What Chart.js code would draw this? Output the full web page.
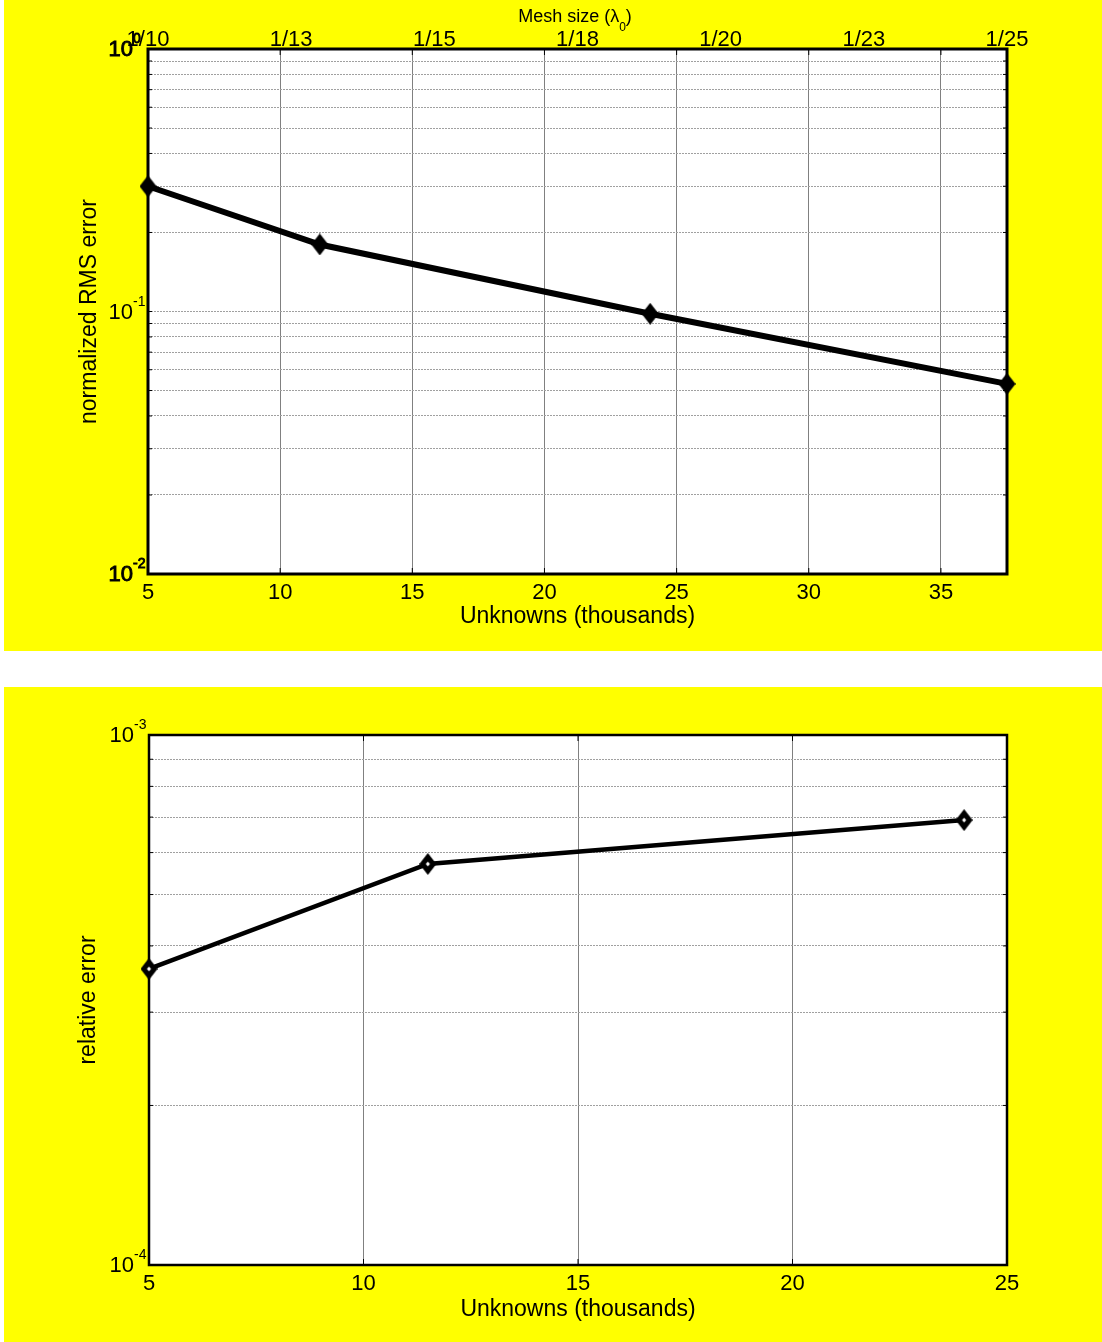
<!DOCTYPE html>
<html>
<head>
<meta charset="utf-8">
<script src="https://cdn.jsdelivr.net/npm/chart.js@4/dist/chart.umd.min.js"></script>
<style>
  html, body { margin: 0; padding: 0; background: #fff; }
  .panel { position: absolute; left: 4px; width: 1098px; background: #ffff00; }
  #p1 { top: 0; height: 651px; }
  #p2 { top: 687px; height: 655px; }
  canvas { display: block; }
</style>
</head>
<body>
<div class="panel" id="p1"><canvas id="c1" width="1098" height="651"></canvas></div>
<div class="panel" id="p2"><canvas id="c2" width="1098" height="655"></canvas></div>
<script>
// ---- data ----
const unknowns = [5, 11.5, 24, 37.5];          // thousands of unknowns
const rmsError = [0.30, 0.18, 0.098, 0.053];   // normalized RMS error
const unknownsRel = [5, 11.5, 24];
const relError = [3.62e-4, 5.71e-4, 6.91e-4];  // relative error

// ---- tick labels ----
const meshLabels = ['1/10', '1/13', '1/15', '1/18', '1/20', '1/23', '1/25'];
const xTicksRms = [5, 10, 15, 20, 25, 30, 35];
const xTicksRel = [5, 10, 15, 20, 25];
const rmsGridValues = [0.01, 0.02, 0.03, 0.04, 0.05, 0.06, 0.07, 0.08, 0.09,
                       0.1, 0.2, 0.3, 0.4, 0.5, 0.6, 0.7, 0.8, 0.9, 1];
const relGridValues = [1e-4, 2e-4, 3e-4, 4e-4, 5e-4, 6e-4, 7e-4, 8e-4, 9e-4, 1e-3];
const rmsDecades = [1, 0.1, 0.01];
const rmsDecadeExps = ['0', '-1', '-2'];
const relDecades = [1e-3, 1e-4];
const relDecadeExps = ['-3', '-4'];

const FONT = "'Liberation Sans', Arial, sans-serif";
Chart.defaults.font.family = FONT;
Chart.defaults.color = '#000';

// diamond marker drawn once and reused as a point style
function diamond(w, h, hole) {
  const c = document.createElement('canvas');
  c.width = w; c.height = h;
  const g = c.getContext('2d');
  g.fillStyle = '#000';
  g.beginPath();
  g.moveTo(w / 2, 0); g.lineTo(w, h / 2); g.lineTo(w / 2, h); g.lineTo(0, h / 2);
  g.closePath(); g.fill();
  if (hole) {
    g.fillStyle = '#fff';
    g.beginPath();
    g.moveTo(w / 2, h / 2 - hole); g.lineTo(w / 2 + hole * 0.8, h / 2);
    g.lineTo(w / 2, h / 2 + hole); g.lineTo(w / 2 - hole * 0.8, h / 2);
    g.closePath(); g.fill();
  }
  return c;
}

// white plot box, inner tick marks, frame, power-of-ten labels, top heading
const framePlugin = {
  id: 'frame',
  beforeDraw(chart) {
    const { ctx, chartArea: a } = chart;
    ctx.save();
    ctx.fillStyle = '#fff';
    ctx.fillRect(a.left, a.top, a.right - a.left, a.bottom - a.top);
    ctx.restore();
  },
  beforeDatasetsDraw(chart, args, o) {
    const { ctx, chartArea: a, scales } = chart;
    const seg = (x1, y1, x2, y2) => { ctx.beginPath(); ctx.moveTo(x1, y1); ctx.lineTo(x2, y2); ctx.stroke(); };
    ctx.save();
    ctx.strokeStyle = '#000';
    ctx.lineWidth = 1;
    scales.x.ticks.forEach(t => {
      const px = scales.x.getPixelForValue(t.value);
      seg(px, a.top, px, a.top + 6);
      seg(px, a.bottom, px, a.bottom - 6);
    });
    scales.y.ticks.forEach(t => {
      const py = scales.y.getPixelForValue(t.value);
      seg(a.left, py, a.left + 4, py);
      seg(a.right, py, a.right - 4, py);
    });
    ctx.lineWidth = o.border;
    ctx.strokeRect(a.left, a.top, a.right - a.left, a.bottom - a.top);
    ctx.restore();
  },
  afterDraw(chart, args, o) {
    const { ctx, chartArea: a, scales } = chart;
    ctx.save();
    ctx.fillStyle = '#000';
    ctx.strokeStyle = '#000';
    o.decades.forEach((v, i) => {
      const py = scales.y.getPixelForValue(v);
      const xr = a.left - 15;
      const heavy = o.heavyEnds && (i === 0 || i === o.decades.length - 1);
      ctx.lineWidth = 0.9;
      ctx.font = '22px ' + FONT;
      ctx.textAlign = 'right';
      ctx.textBaseline = 'middle';
      ctx.fillText('10', xr, py + 1);
      if (heavy) ctx.strokeText('10', xr, py + 1);
      ctx.font = '14px ' + FONT;
      ctx.textAlign = 'left';
      ctx.textBaseline = 'alphabetic';
      ctx.fillText(o.exps[i], xr, py - 6);
      if (heavy) ctx.strokeText(o.exps[i], xr, py - 6);
    });
    if (o.heading) {
      const main = 'Mesh size (\u03bb';
      ctx.font = '18px ' + FONT;
      const w1 = ctx.measureText(main).width;
      const w3 = ctx.measureText(')').width;
      ctx.font = '12px ' + FONT;
      const w2 = ctx.measureText('0').width;
      let x = o.headingX - (w1 + w2 + w3) / 2;
      ctx.textAlign = 'left';
      ctx.textBaseline = 'alphabetic';
      ctx.font = '18px ' + FONT;
      ctx.fillText(main, x, 22);
      x += w1;
      ctx.font = '12px ' + FONT;
      ctx.fillText('0', x, 31);
      x += w2;
      ctx.font = '18px ' + FONT;
      ctx.fillText(')', x, 22);
    }
    ctx.restore();
  }
};

function fixedTicks(values) {
  return scale => { scale.ticks = values.map(v => ({ value: v })); };
}

// ---- upper chart: normalized RMS error ----
new Chart(document.getElementById('c1'), {
  type: 'line',
  data: {
    datasets: [{
      data: unknowns.map((u, i) => ({ x: u, y: rmsError[i] })),
      borderColor: '#000',
      borderWidth: 6,
      tension: 0,
      pointStyle: diamond(17, 22, 0),
      pointRadius: 9,
      clip: false
    }]
  },
  options: {
    responsive: false,
    devicePixelRatio: 1,
    animation: false,
    layout: { padding: { left: 0, right: 95, top: 0, bottom: 0 } },
    plugins: {
      legend: { display: false },
      tooltip: { enabled: false },
      frame: { border: 3, decades: rmsDecades, exps: rmsDecadeExps, heavyEnds: true, heading: true, headingX: 571 }
    },
    scales: {
      x: {
        type: 'linear', position: 'bottom', min: 5, max: 37.5,
        afterBuildTicks: fixedTicks(xTicksRms),
        afterFit: s => { s.height = 77; },
        grid: { color: '#808080', lineWidth: 1, drawTicks: false },
        border: { display: false },
        ticks: { font: { size: 22 }, padding: 6, maxRotation: 0, autoSkip: false },
        title: { display: true, text: 'Unknowns (thousands)', font: { size: 23 }, padding: { top: 0, bottom: 21 } }
      },
      x2: {
        type: 'linear', position: 'top', min: 0, max: 6,
        afterBuildTicks: fixedTicks(meshLabels.map((_, i) => i)),
        afterFit: s => { s.height = 49; },
        grid: { display: false, drawTicks: false },
        border: { display: false },
        ticks: { font: { size: 22 }, padding: -4, maxRotation: 0, autoSkip: false,
                 callback: (v, i) => meshLabels[i] }
      },
      y: {
        type: 'logarithmic', min: 0.01, max: 1,
        afterBuildTicks: fixedTicks(rmsGridValues),
        afterFit: s => { s.width = 144; },
        grid: { color: '#a0a0a0', lineWidth: 1, drawTicks: false },
        border: { display: false, dash: [2, 1] },
        ticks: { display: false },
        title: { display: true, text: 'normalized RMS error', font: { size: 23 }, padding: { top: 72, bottom: 0 } }
      }
    }
  },
  plugins: [framePlugin]
});

// ---- lower chart: relative error ----
new Chart(document.getElementById('c2'), {
  type: 'line',
  data: {
    datasets: [{
      data: unknownsRel.map((u, i) => ({ x: u, y: relError[i] })),
      borderColor: '#000',
      borderWidth: 4.5,
      tension: 0,
      pointStyle: diamond(17, 22, 2.5),
      pointRadius: 9,
      clip: false
    }]
  },
  options: {
    responsive: false,
    devicePixelRatio: 1,
    animation: false,
    layout: { padding: { left: 0, right: 95, top: 48, bottom: 0 } },
    plugins: {
      legend: { display: false },
      tooltip: { enabled: false },
      frame: { border: 2.5, decades: relDecades, exps: relDecadeExps, heavyEnds: false, heading: false }
    },
    scales: {
      x: {
        type: 'linear', position: 'bottom', min: 5, max: 25,
        afterBuildTicks: fixedTicks(xTicksRel),
        afterFit: s => { s.height = 77; },
        grid: { color: '#808080', lineWidth: 1, drawTicks: false },
        border: { display: false },
        ticks: { font: { size: 22 }, padding: 6, maxRotation: 0, autoSkip: false },
        title: { display: true, text: 'Unknowns (thousands)', font: { size: 23 }, padding: { top: 0, bottom: 19 } }
      },
      y: {
        type: 'logarithmic', min: 1e-4, max: 1e-3,
        afterBuildTicks: fixedTicks(relGridValues),
        afterFit: s => { s.width = 145; },
        grid: { color: '#a0a0a0', lineWidth: 1, drawTicks: false },
        border: { display: false, dash: [2, 1] },
        ticks: { display: false },
        title: { display: true, text: 'relative error', font: { size: 23 }, padding: { top: 71, bottom: 0 } }
      }
    }
  },
  plugins: [framePlugin]
});
</script>
</body>
</html>
